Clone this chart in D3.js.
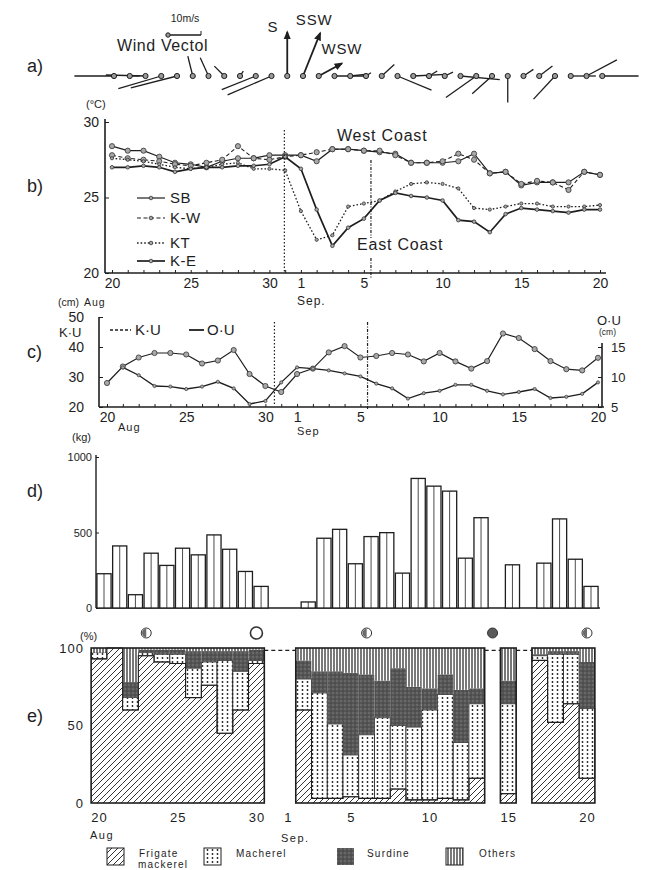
<!DOCTYPE html>
<html><head><meta charset="utf-8">
<script src="https://cdn.jsdelivr.net/npm/d3@7/dist/d3.min.js"></script>
<style>
html,body{margin:0;padding:0;background:#fff;}
svg{display:block;font-family:"Liberation Sans",Arial,sans-serif;}
</style></head><body>
<svg id="chart" width="646" height="870"></svg>
<script>
// ================= DATA =================
// day index 0 = Aug 20 ... 31 = Sep 20
const days = d3.range(32);
const tickDays = [0, 5, 10, 12, 16, 21, 26, 31];
const tickLabels = ["20", "25", "30", "1", "5", "10", "15", "20"];
const eventDays = [10.95, 16.45];

// a) wind vectors (m/s, east & north components)
const windU = [-12, 3, -12, -13, -14, -1.5, -2.5, -3, 1, -10.3, -13.3, 0, 5.2, 7, 9.7, 4.5, 1.5, 3.8, 10.3, 10, 2.5, 2.5, 11.9, -9.2, -6, 0, 3, 4, -6.5, 7.6, 9.2, 11];
const windV = [0, 0, 0.3, -3.8, -3.6, 6, 5.5, 3, 1.5, -4.1, -5.7, 13.3, 13, 3.8, 0, 0.5, 1, 3.5, -4.3, 0.5, 1.5, 1.2, -1.1, -6.5, -5.4, -8, 2, 3, -7, 0, 4.9, 0];
const windLabels = [{day: 11, text: "S"}, {day: 12, text: "SSW"}, {day: 13, text: "WSW"}];

// b) water temperature (°C)
const tempSB = [28.4, 28.1, 28.1, 27.7, 27.3, 27.2, 27.0, 27.4, 27.6, 27.6, 27.8, 27.8, 27.8, 27.4, 28.2, 28.2, 28.1, 28.0, 27.9, 27.3, 27.3, 27.3, 27.4, 27.9, 26.6, 26.7, 25.8, 26.0, 26.0, 26.0, 26.7, 26.5];
const tempKW = [27.8, 27.6, 27.5, 27.4, 27.2, 27.1, 27.3, 27.5, 28.4, 27.6, 27.5, 27.7, 27.8, 28.0, 28.2, 28.2, 28.1, 28.1, 27.8, 27.3, 27.3, 27.4, 27.9, 27.5, 26.6, 26.7, 25.9, 26.1, 26.0, 25.5, 26.7, 26.5];
const tempKT = [27.6, 27.5, 27.4, 27.2, 27.0, 26.9, 27.0, 27.2, 27.3, 26.9, 26.9, 26.8, 24.1, 22.2, 22.5, 24.4, 24.6, 24.8, 25.4, 25.9, 26.0, 25.9, 25.6, 24.3, 24.2, 24.4, 24.6, 24.6, 24.4, 24.4, 24.4, 24.5];
const tempKE = [27.0, 27.0, 27.1, 27.0, 26.7, 26.9, 27.0, 27.0, 27.1, 27.1, 27.2, 27.7, 26.9, 24.2, 21.8, 23.0, 23.6, 24.8, 25.3, 25.1, 25.0, 24.8, 23.5, 23.4, 22.7, 23.9, 24.3, 24.2, 24.1, 24.0, 24.2, 24.2];
const tempNames = ["SB", "K-W", "KT", "K-E"];

// c) tide levels (cm)
const levelKU = [28, 33.5, 36.5, 38, 38, 37.5, 34.5, 35.5, 39, 31, 27, 25, 31, 32.8, 38.2, 40.3, 36.5, 37, 38, 37.5, 35.2, 38, 35.2, 32.8, 35.3, 44.5, 43, 39.3, 35.3, 32.6, 32.2, 36.4];
const levelOU = [null, 11.6, 10.3, 8.5, 8.4, 8.0, 8.4, 9.2, 8.1, 5.5, 6.0, 9.1, 11.6, 11.4, 11.1, 10.6, 10.1, 8.9, 8.1, 6.4, 7.3, 7.7, 8.7, 8.7, 7.7, 7.1, 7.5, 8.0, 6.5, 6.7, 7.2, 9.1];

// d) catch (kg)
const catchKg = [227, 411, 88, 363, 282, 396, 352, 484, 389, 242, 143, null, null, 40, 462, 521, 293, 473, 499, 231, 858, 807, 774, 330, 598, null, 286, null, 297, 590, 323, 143];
const moonDays = [3, 10, 17, 25, 31];
const moonPhases = ["half", "new", "half", "full", "half"];

// e) species composition (%)
const species = ["Frigate mackerel", "Macherel", "Surdine", "Others"];
const pctFrigate  = [93, 100, 60, 95, 91, 90, 68, 76, 45, 60, 90, null, null, 60, 3, 3, 4, 3, 3, 9, 2, 2, 3, 2, 16, null, 6, null, 92, 52, 64, 16];
const pctMackerel = [4, 0, 8, 2, 5, 6, 19, 15, 47, 25, 2, null, null, 20, 68, 48, 27, 41, 52, 41, 47, 58, 67, 37, 48, null, 58, null, 3, 44, 32, 45];
const pctSardine  = [0, 0, 10, 2, 3, 3, 11, 7, 6, 13, 7, null, null, 12, 14, 34, 53, 39, 24, 37, 26, 14, 13, 34, 10, null, 15, null, 1, 2, 2, 30];
const pctOthers   = [3, 0, 22, 1, 1, 1, 2, 2, 2, 2, 1, null, null, 8, 15, 15, 16, 17, 21, 13, 25, 26, 17, 27, 26, null, 21, null, 4, 2, 2, 9];

// ================= CHART =================
const svg = d3.select("#chart");
const ink = "#1e1e1e";
const step = 15.75;
const xA = d3.scaleLinear().domain([0, 31]).range([114, 114 + 31 * step]);
const xB = d3.scaleLinear().domain([0, 31]).range([112, 600]);
const xC = d3.scaleLinear().domain([0, 31]).range([107, 598]);
const xD = d3.scaleLinear().domain([0, 31]).range([104, 591]);
const xE = d3.scaleLinear().domain([0, 31]).range([99, 587]);
const yB = d3.scaleLinear().domain([20, 30]).range([273, 122]);
const yC = d3.scaleLinear().domain([20, 50]).range([407, 317]);
const yC2 = d3.scaleLinear().domain([5, 20]).range([407, 317]);
const yD = d3.scaleLinear().domain([0, 1000]).range([608, 457]);
const yE = d3.scaleLinear().domain([0, 100]).range([803, 648]);
const wS = d3.scaleLinear().domain([0, 10]).range([0, 33]);
const labelOf = d => { const k = tickDays.indexOf(d); return k >= 0 ? tickLabels[k] : ""; };

// ---- patterns ----
const defs = svg.append("defs");
const pF = defs.append("pattern").attr("id", "pFrig").attr("patternUnits", "userSpaceOnUse").attr("width", 6).attr("height", 6);
pF.append("rect").attr("width", 6).attr("height", 6).attr("fill", "#fff");
pF.append("path").attr("d", "M-1,7 L7,-1 M-1,1 L1,-1 M5,7 L7,5").attr("stroke", ink).attr("stroke-width", 0.9);
const pM = defs.append("pattern").attr("id", "pMack").attr("patternUnits", "userSpaceOnUse").attr("width", 5).attr("height", 4);
pM.append("rect").attr("width", 5).attr("height", 4).attr("fill", "#fff");
pM.append("circle").attr("cx", 2.5).attr("cy", 2).attr("r", 0.9).attr("fill", ink);
const pS = defs.append("pattern").attr("id", "pSard").attr("patternUnits", "userSpaceOnUse").attr("width", 4).attr("height", 4);
pS.append("rect").attr("width", 4).attr("height", 4).attr("fill", "#555");
pS.append("circle").attr("cx", 1).attr("cy", 1).attr("r", 0.7).attr("fill", "#8a8a8a");
pS.append("circle").attr("cx", 3).attr("cy", 3).attr("r", 0.6).attr("fill", "#333");
const pO = defs.append("pattern").attr("id", "pOth").attr("patternUnits", "userSpaceOnUse").attr("width", 3).attr("height", 3);
pO.append("rect").attr("width", 3).attr("height", 3).attr("fill", "#fff");
pO.append("line").attr("x1", 1).attr("x2", 1).attr("y1", 0).attr("y2", 3).attr("stroke", ink).attr("stroke-width", 1.2);
defs.append("marker").attr("id", "arr").attr("viewBox", "0 0 10 10").attr("refX", 8).attr("refY", 5)
  .attr("markerWidth", 5).attr("markerHeight", 5).attr("orient", "auto")
  .append("path").attr("d", "M0,1 L10,5 L0,9 Z").attr("fill", ink);

// ---- panel labels ----
[["a)", 72], ["b)", 192], ["c)", 358], ["d)", 497], ["e)", 722]].forEach(([t, y]) =>
  svg.append("text").attr("x", 27).attr("y", y).attr("font-size", 18).attr("fill", ink).text(t));

// ================= a) wind =================
const gA = svg.append("g");
const baseY = 76;
gA.append("text").attr("x", 185).attr("y", 22).attr("text-anchor", "middle").attr("font-size", 10.5).attr("fill", ink).text("10m/s");
gA.append("line").attr("x1", 168).attr("x2", 168 + wS(10)).attr("y1", 35).attr("y2", 35).attr("stroke", ink).attr("stroke-width", 1.3);
gA.append("line").attr("x1", 168 + wS(10)).attr("x2", 168 + wS(10)).attr("y1", 31).attr("y2", 35).attr("stroke", ink);
gA.append("circle").attr("cx", 168).attr("cy", 35).attr("r", 2.2).attr("fill", "#999").attr("stroke", ink);
gA.append("text").attr("x", 117).attr("y", 51).attr("font-size", 16).attr("fill", ink).attr("letter-spacing", 0.6).text("Wind Vectol");
const labeled = new Set(windLabels.map(d => d.day));
gA.selectAll("line.w").data(days).join("line").attr("class", "w")
  .attr("x1", d => xA(d)).attr("y1", baseY)
  .attr("x2", d => xA(d) + wS(windU[d])).attr("y2", d => baseY - wS(windV[d]))
  .attr("stroke", ink).attr("stroke-width", d => labeled.has(d) ? 1.8 : 1.3)
  .attr("marker-end", d => labeled.has(d) ? "url(#arr)" : null);
gA.selectAll("circle.w").data(days).join("circle").attr("class", "w")
  .attr("cx", d => xA(d)).attr("cy", baseY).attr("r", 2.6)
  .attr("fill", "#9a9a9a").attr("stroke", ink).attr("stroke-width", 1);
const labelPlace = {"S": [-9, 0, "end"], "SSW": [-6, -8, "middle"], "WSW": [0, -9, "middle"]};
gA.selectAll("text.wl").data(windLabels).join("text").attr("class", "wl")
  .attr("x", d => xA(d.day) + wS(windU[d.day]) + labelPlace[d.text][0])
  .attr("y", d => baseY - wS(windV[d.day]) + labelPlace[d.text][1])
  .attr("text-anchor", d => labelPlace[d.text][2])
  .attr("font-size", 15).attr("fill", ink).attr("letter-spacing", 0.8).text(d => d.text);

// ================= b) temperature =================
const gB = svg.append("g");
gB.append("text").attr("x", 86).attr("y", 108).attr("font-size", 11).attr("fill", ink).text("(°C)");
const axB = gB.append("g").attr("transform", "translate(105,0)")
  .call(d3.axisLeft(yB).tickValues([20, 25, 30]).tickSizeInner(-4).tickSizeOuter(0).tickPadding(6).tickFormat(d3.format("d")));
axB.select(".domain").remove();
gB.append("line").attr("x1", 105).attr("x2", 105).attr("y1", yB(30) - 3).attr("y2", yB(20)).attr("stroke", ink).attr("stroke-width", 1.6);
const axBx = gB.append("g").attr("transform", `translate(0,${yB(20)})`)
  .call(d3.axisBottom(xB).tickValues(days).tickSize(-3).tickPadding(5).tickFormat(labelOf));
axBx.select(".domain").remove();
gB.append("line").attr("x1", 105).attr("x2", 606).attr("y1", yB(20)).attr("y2", yB(20)).attr("stroke", ink).attr("stroke-width", 1.6);
gB.append("text").attr("x", 297).attr("y", 305).attr("font-size", 12).attr("fill", ink).attr("letter-spacing", 1).text("Sep.");

const tempData = [tempSB, tempKW, tempKT, tempKE];
const tempStyle = [
  {dash: null, w: 1.2, r: 2.6},
  {dash: "4,2.5", w: 1.1, r: 2.6},
  {dash: "1.6,2", w: 1.3, r: 1.6},
  {dash: null, w: 1.7, r: 1.8}
];
const lineB = d3.line().x((d, i) => xB(i)).y(d => yB(d));
tempData.forEach((s, k) => {
  gB.append("path").attr("d", lineB(s)).attr("fill", "none").attr("stroke", ink)
    .attr("stroke-width", tempStyle[k].w).attr("stroke-dasharray", tempStyle[k].dash);
  gB.selectAll(null).data(s).join("circle").attr("cx", (d, i) => xB(i)).attr("cy", d => yB(d))
    .attr("r", tempStyle[k].r).attr("fill", "#a8a8a8").attr("stroke", "#333").attr("stroke-width", 0.8);
});
// legend b
const legB = [198, 218, 243, 261];
tempNames.forEach((n, k) => {
  gB.append("line").attr("x1", 137).attr("x2", 165).attr("y1", legB[k]).attr("y2", legB[k])
    .attr("stroke", ink).attr("stroke-width", tempStyle[k].w).attr("stroke-dasharray", tempStyle[k].dash);
  gB.append("circle").attr("cx", 151).attr("cy", legB[k]).attr("r", 1.8).attr("fill", "#a8a8a8").attr("stroke", "#333").attr("stroke-width", 0.8);
  gB.append("text").attr("x", 170).attr("y", legB[k] + 5).attr("font-size", 15).attr("fill", ink).attr("letter-spacing", 0.5).text(n);
});
gB.append("text").attr("x", 337).attr("y", 141).attr("font-size", 16).attr("fill", ink).attr("letter-spacing", 0.8).text("West Coast");
gB.append("text").attr("x", 357).attr("y", 250).attr("font-size", 16).attr("fill", ink).attr("letter-spacing", 0.8).text("East Coast");
gB.append("line").attr("x1", xB(eventDays[0])).attr("x2", xB(eventDays[0])).attr("y1", 130).attr("y2", yB(20))
  .attr("stroke", ink).attr("stroke-width", 1.2).attr("stroke-dasharray", "1.5,2");
gB.append("line").attr("x1", xB(eventDays[1])).attr("x2", xB(eventDays[1])).attr("y1", 160).attr("y2", 238)
  .attr("stroke", ink).attr("stroke-width", 1.2).attr("stroke-dasharray", "3,1.5,1,1.5");
gB.append("line").attr("x1", xB(eventDays[1])).attr("x2", xB(eventDays[1])).attr("y1", 258).attr("y2", 278)
  .attr("stroke", ink).attr("stroke-width", 1.2).attr("stroke-dasharray", "3,1.5,1,1.5");

// ================= c) tide =================
const gC = svg.append("g");
gC.append("text").attr("x", 58).attr("y", 306).attr("font-size", 10.5).attr("fill", ink).text("(cm)");
gC.append("text").attr("x", 84).attr("y", 306).attr("font-size", 10.5).attr("fill", ink).attr("letter-spacing", 1).text("Aug");
const axC = gC.append("g").attr("transform", "translate(99,0)")
  .call(d3.axisLeft(yC).tickValues([20, 30, 40, 50]).tickSizeInner(-4).tickSizeOuter(0).tickPadding(15).tickFormat(d3.format("d")));
axC.select(".domain").remove();
gC.append("line").attr("x1", 99).attr("x2", 99).attr("y1", yC(50)).attr("y2", yC(20)).attr("stroke", ink).attr("stroke-width", 1.6);
const axC2 = gC.append("g").attr("transform", "translate(602,0)")
  .call(d3.axisRight(yC2).tickValues([5, 10, 15]).tickSizeInner(-4).tickSizeOuter(0).tickPadding(9).tickFormat(d3.format("d")));
axC2.select(".domain").remove();
gC.append("line").attr("x1", 602).attr("x2", 602).attr("y1", yC2(15) - 4).attr("y2", yC(20)).attr("stroke", ink).attr("stroke-width", 1.6);
gC.append("text").attr("x", 597).attr("y", 325).attr("font-size", 13).attr("fill", ink).text("O·U");
gC.append("text").attr("x", 599).attr("y", 335).attr("font-size", 8.5).attr("fill", ink).text("(cm)");
gC.append("text").attr("x", 59).attr("y", 337).attr("font-size", 13).attr("fill", ink).text("K·U");
const axCx = gC.append("g").attr("transform", `translate(0,${yC(20)})`)
  .call(d3.axisBottom(xC).tickValues(days).tickSize(-3).tickPadding(5).tickFormat(labelOf));
axCx.select(".domain").remove();
gC.append("line").attr("x1", 99).attr("x2", 604).attr("y1", yC(20)).attr("y2", yC(20)).attr("stroke", ink).attr("stroke-width", 1.6);
gC.append("text").attr("x", 118).attr("y", 431).attr("font-size", 11).attr("fill", ink).attr("letter-spacing", 1).text("Aug");
gC.append("text").attr("x", 297).attr("y", 435).attr("font-size", 11).attr("fill", ink).attr("letter-spacing", 1).text("Sep");
// legend c
gC.append("line").attr("x1", 110).attr("x2", 131).attr("y1", 330).attr("y2", 330).attr("stroke", ink).attr("stroke-width", 1.4).attr("stroke-dasharray", "3,2");
gC.append("text").attr("x", 135).attr("y", 335).attr("font-size", 15).attr("fill", ink).text("K·U");
gC.append("line").attr("x1", 189).attr("x2", 204).attr("y1", 330).attr("y2", 330).attr("stroke", ink).attr("stroke-width", 1.8);
gC.append("text").attr("x", 207).attr("y", 335).attr("font-size", 15).attr("fill", ink).text("O·U");
const lineKU = d3.line().defined(d => d != null).x((d, i) => xC(i)).y(d => yC(d));
const lineOU = d3.line().defined(d => d != null).x((d, i) => xC(i)).y(d => yC2(d));
gC.append("path").attr("d", lineKU(levelKU)).attr("fill", "none").attr("stroke", ink).attr("stroke-width", 1.2);
gC.append("path").attr("d", lineOU(levelOU)).attr("fill", "none").attr("stroke", ink).attr("stroke-width", 1.3);
gC.selectAll(null).data(levelKU).join("circle").attr("cx", (d, i) => xC(i)).attr("cy", d => yC(d))
  .attr("r", 2.6).attr("fill", "#a8a8a8").attr("stroke", "#333").attr("stroke-width", 0.8);
gC.selectAll(null).data(levelOU.map((v, i) => ({v, i})).filter(d => d.v != null)).join("circle")
  .attr("cx", d => xC(d.i)).attr("cy", d => yC2(d.v))
  .attr("r", 1.6).attr("fill", "#a8a8a8").attr("stroke", "#333").attr("stroke-width", 0.7);
gC.append("line").attr("x1", xC(eventDays[0]) - 6).attr("x2", xC(eventDays[0]) - 6).attr("y1", 322).attr("y2", 405)
  .attr("stroke", ink).attr("stroke-width", 1.2).attr("stroke-dasharray", "1.5,2");
gC.append("line").attr("x1", xC(eventDays[1])).attr("x2", xC(eventDays[1])).attr("y1", 322).attr("y2", 410)
  .attr("stroke", ink).attr("stroke-width", 1.2).attr("stroke-dasharray", "3,1.5,1,1.5");

// ================= d) catch =================
const gD = svg.append("g");
gD.append("text").attr("x", 72).attr("y", 441).attr("font-size", 11).attr("fill", ink).text("(kg)");
const axD = gD.append("g").attr("transform", "translate(96,0)")
  .call(d3.axisLeft(yD).tickValues([0, 500, 1000]).tickSizeInner(-3).tickSizeOuter(0).tickPadding(4).tickFormat(d3.format("d")));
axD.select(".domain").remove();
gD.append("line").attr("x1", 96).attr("x2", 96).attr("y1", yD(1000) - 2).attr("y2", yD(0)).attr("stroke", ink).attr("stroke-width", 1.4);
gD.append("line").attr("x1", 96).attr("x2", 600).attr("y1", yD(0)).attr("y2", yD(0)).attr("stroke", ink).attr("stroke-width", 1.6);
const barData = catchKg.map((v, i) => ({v, i})).filter(d => d.v != null);
gD.selectAll("rect.bar").data(barData).join("rect").attr("class", "bar")
  .attr("x", d => xD(d.i) - step / 2 + 0.8).attr("width", step - 1.6)
  .attr("y", d => yD(d.v)).attr("height", d => yD(0) - yD(d.v))
  .attr("fill", "#fff").attr("stroke", ink).attr("stroke-width", 1.3);
gD.selectAll("line.bar").data(barData).join("line").attr("class", "bar")
  .attr("x1", d => xD(d.i)).attr("x2", d => xD(d.i)).attr("y1", d => yD(d.v)).attr("y2", yD(0))
  .attr("stroke", ink).attr("stroke-width", 0.8);
// moon phases
const moonY = 633;
const gMoon = gD.selectAll("g.moon").data(moonDays.map((d, k) => ({d, p: moonPhases[k]}))).join("g")
  .attr("class", "moon").attr("transform", m => `translate(${xE(m.d)},${moonY})`);
gMoon.append("circle").attr("r", m => m.p === "new" ? 6 : 5)
  .attr("fill", m => m.p === "full" ? "#5a5a5a" : "#fff")
  .attr("stroke", "#333").attr("stroke-width", m => m.p === "new" ? 1.6 : 1);
gMoon.filter(m => m.p === "half").append("path")
  .attr("d", d3.arc()({innerRadius: 0, outerRadius: 4.2, startAngle: Math.PI, endAngle: 2 * Math.PI}))
  .attr("fill", "#6a6a6a");

// ================= e) composition =================
const gE = svg.append("g");
gE.append("text").attr("x", 80).attr("y", 640).attr("font-size", 11).attr("fill", ink).text("(%)");
const axE = gE.append("g").attr("transform", "translate(90,0)")
  .call(d3.axisLeft(yE).tickValues([0, 50, 100]).tickSize(0).tickPadding(6).tickFormat(d3.format("d")));
axE.select(".domain").remove();
const axEx = gE.append("g").attr("transform", `translate(0,${yE(0)})`)
  .call(d3.axisBottom(xE).tickValues(tickDays).tickSize(0).tickPadding(10).tickFormat(labelOf));
axEx.select(".domain").remove();
gE.append("text").attr("x", 90).attr("y", 839).attr("font-size", 11).attr("fill", ink).attr("letter-spacing", 1.5).text("Aug");
gE.append("text").attr("x", 281).attr("y", 842).attr("font-size", 11).attr("fill", ink).attr("letter-spacing", 1.5).text("Sep.");

const rows = days.filter(i => pctFrigate[i] != null).map(i => ({
  day: i, "Frigate mackerel": pctFrigate[i], "Macherel": pctMackerel[i], "Surdine": pctSardine[i], "Others": pctOthers[i]
}));
const stacked = d3.stack().keys(species)(rows);
const fills = ["url(#pFrig)", "url(#pMack)", "url(#pSard)", "url(#pOth)"];
stacked.forEach((layer, k) => {
  gE.selectAll(null).data(layer.filter(s => s[1] > s[0])).join("rect")
    .attr("x", s => xE(s.data.day) - step / 2).attr("width", step)
    .attr("y", s => yE(s[1])).attr("height", s => yE(s[0]) - yE(s[1]))
    .attr("fill", fills[k])
    .attr("stroke", k === 1 ? ink : "none").attr("stroke-width", 0.8);
});
// runs of consecutive days -> blocks
const runs = [];
rows.forEach(r => {
  const last = runs[runs.length - 1];
  if (last && r.day === last[last.length - 1] + 1) last.push(r.day); else runs.push([r.day]);
});
// frigate-top step outline
runs.forEach(run => {
  const pts = [];
  run.forEach(d => { pts.push([xE(d) - step / 2, yE(pctFrigate[d])]); pts.push([xE(d) + step / 2, yE(pctFrigate[d])]); });
  gE.append("path").attr("d", d3.line()(pts)).attr("fill", "none").attr("stroke", ink).attr("stroke-width", 1.1);
});
gE.selectAll("rect.block").data(runs).join("rect").attr("class", "block")
  .attr("x", r => xE(r[0]) - step / 2).attr("width", r => xE(r[r.length - 1]) - xE(r[0]) + step)
  .attr("y", yE(100)).attr("height", yE(0) - yE(100))
  .attr("fill", "none").attr("stroke", ink).attr("stroke-width", 1.6);
runs.slice(1).forEach((r, k) => {
  const prev = runs[k];
  gE.append("line").attr("x1", xE(prev[prev.length - 1]) + step / 2).attr("x2", xE(r[0]) - step / 2)
    .attr("y1", yE(98.5)).attr("y2", yE(98.5)).attr("stroke", ink).attr("stroke-width", 1.2).attr("stroke-dasharray", "4,3");
});
// legend e
const legE = [
  {x: 107, tx: 139, lines: ["Frigate", "mackerel"]},
  {x: 204, tx: 236, lines: ["Macherel"]},
  {x: 337, tx: 367, lines: ["Surdine"]},
  {x: 446, tx: 479, lines: ["Others"]}
];
legE.forEach((l, k) => {
  gE.append("rect").attr("x", l.x).attr("y", 848).attr("width", 17).attr("height", 17)
    .attr("fill", fills[k]).attr("stroke", k === 2 ? "none" : ink).attr("stroke-width", 1);
  l.lines.forEach((t, j) => gE.append("text").attr("x", l.tx + (j ? -1 : 0)).attr("y", 857 + j * 11)
    .attr("font-size", 10).attr("fill", ink).attr("letter-spacing", 1.2).text(t));
});
svg.selectAll(".tick text").attr("font-size", 14).attr("fill", ink).attr("font-family", "Liberation Sans, Arial, sans-serif");
gD.selectAll(".tick text").attr("font-size", 11);
gE.selectAll(".tick text").attr("font-size", 13).attr("letter-spacing", 1);
axC2.selectAll(".tick text").attr("font-size", 13);
svg.selectAll(".tick line").attr("stroke", ink);
</script>
</body></html>
